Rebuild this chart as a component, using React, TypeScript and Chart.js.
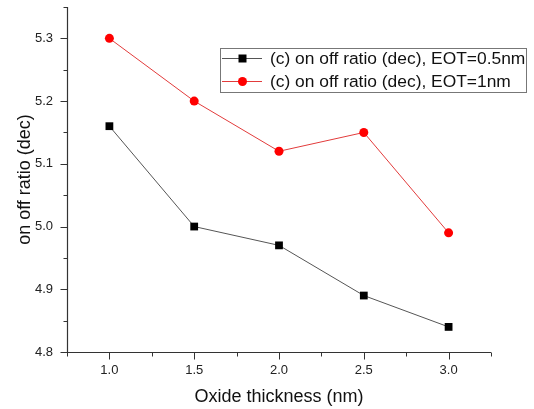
import React, { useEffect, useRef } from 'react';
import { Chart, registerables } from 'chart.js';

Chart.register(...registerables);

const thickness = [1.0, 1.5, 2.0, 2.5, 3.0];
const eot05 = [5.16, 5.0, 4.97, 4.89, 4.84];
const eot1 = [5.3, 5.2, 5.12, 5.15, 4.99];
const xMajor = [1.0, 1.5, 2.0, 2.5, 3.0];
const xMinor = [0.75, 1.25, 1.75, 2.25, 2.75, 3.25];
const yMajor = [4.8, 4.9, 5.0, 5.1, 5.2, 5.3];
const yMinor = [4.85, 4.95, 5.05, 5.15, 5.25, 5.35];
const seriesLabels = ['(c) on off ratio (dec), EOT=0.5nm', '(c) on off ratio (dec), EOT=1nm'];
const xTitle = 'Oxide thickness (nm)';
const yTitle = 'on off ratio (dec)';

const FONT = "'Liberation Sans', Arial, sans-serif";
const AXIS_COLOR = '#333';

const axisPlugin = {
  id: 'axisPlugin',
  afterDraw(chart: any) {
    const ctx = chart.ctx;
    const xs = chart.scales.x;
    const ys = chart.scales.y;
    const a = chart.chartArea;
    ctx.save();
    ctx.strokeStyle = AXIS_COLOR;
    ctx.lineWidth = 1.2;
    const L = Math.round(a.left) + 0.5;
    const B = Math.round(a.bottom) + 0.5;
    ctx.beginPath();
    ctx.moveTo(L, a.top);
    ctx.lineTo(L, B);
    ctx.lineTo(a.right, B);
    ctx.stroke();
    ctx.lineWidth = 1;
    ctx.beginPath();
    xMajor.forEach((v) => {
      const px = Math.round(xs.getPixelForValue(v)) + 0.5;
      ctx.moveTo(px, B);
      ctx.lineTo(px, B + 7);
    });
    xMinor.forEach((v) => {
      const px = Math.round(xs.getPixelForValue(v)) + 0.5;
      ctx.moveTo(px, B);
      ctx.lineTo(px, B + 4);
    });
    yMajor.forEach((v) => {
      const py = Math.round(ys.getPixelForValue(v)) + 0.5;
      ctx.moveTo(L, py);
      ctx.lineTo(L - 7, py);
    });
    yMinor.forEach((v) => {
      const py = Math.round(ys.getPixelForValue(v)) + 0.5;
      ctx.moveTo(L, py);
      ctx.lineTo(L - 4, py);
    });
    ctx.stroke();

    // legend
    const bx = 220.5, by = 48.5, bw = 306, bh = 44;
    ctx.fillStyle = '#fff';
    ctx.fillRect(bx, by, bw, bh);
    ctx.strokeStyle = '#777';
    ctx.lineWidth = 1;
    ctx.strokeRect(bx, by, bw, bh);
    const rows = [58, 81];
    chart.data.datasets.forEach((ds: any, i: number) => {
      const yy = rows[i];
      ctx.strokeStyle = ds.borderColor;
      ctx.lineWidth = 1;
      ctx.beginPath();
      ctx.moveTo(222, yy + 0.5);
      ctx.lineTo(262, yy + 0.5);
      ctx.stroke();
      ctx.fillStyle = ds.pointBackgroundColor;
      ctx.beginPath();
      if (ds.pointStyle === 'rect') {
        ctx.rect(238.5, yy - 3.5, 8, 8);
      } else {
        ctx.arc(242.5, yy + 0.5, 4.5, 0, Math.PI * 2);
      }
      ctx.fill();
      ctx.fillStyle = '#111';
      ctx.font = `17.4px ${FONT}`;
      ctx.textBaseline = 'middle';
      ctx.textAlign = 'left';
      ctx.fillText(ds.label, 270, yy + 1);
    });
    ctx.restore();
  },
};

export default function App() {
  const ref = useRef<HTMLCanvasElement>(null);
  useEffect(() => {
    document.body.style.margin = '0';
    const chart = new Chart(ref.current!, {
      type: 'line',
      data: {
        datasets: [
          {
            label: seriesLabels[0],
            data: thickness.map((x, i) => ({ x, y: eot05[i] })),
            borderColor: '#555',
            borderWidth: 1,
            pointStyle: 'rect',
            pointRadius: 5.5,
            pointBackgroundColor: '#000',
            pointBorderColor: '#000',
            pointBorderWidth: 0,
          },
          {
            label: seriesLabels[1],
            data: thickness.map((x, i) => ({ x, y: eot1[i] })),
            borderColor: '#e23b3b',
            borderWidth: 1,
            pointStyle: 'circle',
            pointRadius: 4.5,
            pointBackgroundColor: '#ff0000',
            pointBorderColor: '#ff0000',
            pointBorderWidth: 0,
          },
        ],
      },
      options: {
        responsive: false,
        animation: false,
        layout: { padding: { left: 0, right: 43, top: 7, bottom: 0 } },
        plugins: { legend: { display: false }, tooltip: { enabled: false } },
        scales: {
          x: {
            type: 'linear',
            min: 0.75,
            max: 3.25,
            afterBuildTicks: (s: any) => {
              s.ticks = xMajor.map((v) => ({ value: v }));
            },
            afterFit: (s: any) => {
              s.height = 57;
              s.paddingLeft = 0;
              s.paddingRight = 0;
            },
            border: { display: false },
            grid: { drawOnChartArea: false, drawTicks: true, tickLength: 7, color: 'transparent' },
            ticks: {
              padding: 4,
              color: '#222',
              font: { family: FONT, size: 13 },
              callback: (v: any) => Number(v).toFixed(1),
            },
            title: {
              display: true,
              text: xTitle,
              color: '#111',
              font: { family: FONT, size: 18 },
              padding: { top: 0, bottom: 1 },
            },
          },
          y: {
            type: 'linear',
            min: 4.8,
            max: 5.35,
            afterBuildTicks: (s: any) => {
              s.ticks = yMajor.map((v) => ({ value: v }));
            },
            afterFit: (s: any) => {
              s.width = 67;
              s.paddingTop = 0;
              s.paddingBottom = 0;
            },
            border: { display: false },
            grid: { drawOnChartArea: false, drawTicks: true, tickLength: 7, color: 'transparent' },
            ticks: {
              padding: 7,
              color: '#222',
              font: { family: FONT, size: 13 },
              callback: (v: any) => Number(v).toFixed(1),
            },
            title: {
              display: true,
              text: yTitle,
              color: '#111',
              font: { family: FONT, size: 18 },
              padding: { top: 14, bottom: 0 },
            },
          },
        },
      },
      plugins: [axisPlugin],
    });
    return () => chart.destroy();
  }, []);
  return (
    <div style={{ width: 534, height: 409 }}>
      <canvas ref={ref} width={534} height={409} />
    </div>
  );
}
